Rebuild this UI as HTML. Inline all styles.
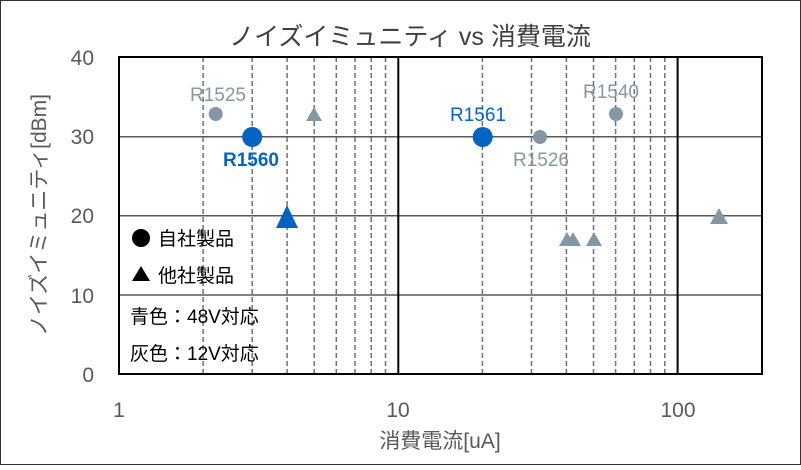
<!DOCTYPE html>
<html><head><meta charset="utf-8"><style>
body{margin:0;background:#fff;}
svg text{font-family:"Liberation Sans","Noto Sans CJK JP",sans-serif;}
</style></head><body>
<svg width="801" height="465" xmlns="http://www.w3.org/2000/svg">
<rect x="0.5" y="0.5" width="800" height="464" fill="#fff" stroke="#333" stroke-width="1"/>
<text x="410" y="45" font-size="25" fill="#404040" text-anchor="middle">ノイズイミュニティ vs 消費電流</text>
<g stroke="#6f6f6f" stroke-width="1.5" stroke-dasharray="5,3">
<line x1="203.1" y1="57" x2="203.1" y2="374"/><line x1="252.2" y1="57" x2="252.2" y2="374"/><line x1="287.1" y1="57" x2="287.1" y2="374"/><line x1="314.2" y1="57" x2="314.2" y2="374"/><line x1="336.3" y1="57" x2="336.3" y2="374"/><line x1="355" y1="57" x2="355" y2="374"/><line x1="371.2" y1="57" x2="371.2" y2="374"/><line x1="385.5" y1="57" x2="385.5" y2="374"/>
<line x1="482.4" y1="57" x2="482.4" y2="374"/><line x1="531.5" y1="57" x2="531.5" y2="374"/><line x1="566.4" y1="57" x2="566.4" y2="374"/><line x1="593.5" y1="57" x2="593.5" y2="374"/><line x1="615.6" y1="57" x2="615.6" y2="374"/><line x1="634.3" y1="57" x2="634.3" y2="374"/><line x1="650.5" y1="57" x2="650.5" y2="374"/><line x1="664.8" y1="57" x2="664.8" y2="374"/>
</g>
<g stroke="#595959" stroke-width="1.5">
<line x1="119" y1="136.7" x2="762" y2="136.7"/><line x1="119" y1="215.7" x2="762" y2="215.7"/><line x1="119" y1="295" x2="762" y2="295"/>
</g>
<g stroke="#000" stroke-width="2" fill="none">
<rect x="119" y="57" width="643" height="317"/>
<line x1="398.3" y1="57" x2="398.3" y2="374"/><line x1="677.6" y1="57" x2="677.6" y2="374"/>
</g>
<g font-size="21" fill="#595959">
<text x="94" y="65" text-anchor="end">40</text><text x="94" y="144" text-anchor="end">30</text><text x="94" y="223" text-anchor="end">20</text><text x="94" y="303" text-anchor="end">10</text><text x="94" y="382" text-anchor="end">0</text>
<text x="119" y="417" text-anchor="middle">1</text><text x="398" y="417" text-anchor="middle">10</text><text x="678" y="417" text-anchor="middle">100</text>
<text x="440" y="448" text-anchor="middle">消費電流[uA]</text>
<text transform="translate(46,215) rotate(-90)" text-anchor="middle">ノイズイミュニティ[dBm]</text>
</g>
<g fill="#8497a4">
<circle cx="215.7" cy="114" r="7"/><circle cx="540" cy="137" r="7"/><circle cx="616" cy="114" r="7"/>
<polygon points="314,107 322,121 306,121"/>
<polygon points="567,232 575,246 559,246"/><polygon points="573,232 581,246 565,246"/><polygon points="594,232 602,246 586,246"/><polygon points="719,208 728,224 710,224"/>
</g>
<g font-size="19" fill="#8497a4">
<text x="218" y="101" text-anchor="middle">R1525</text><text x="541" y="166" text-anchor="middle">R1526</text><text x="611" y="98" text-anchor="middle">R1540</text>
</g>
<g fill="#0563c1">
<circle cx="252.2" cy="137" r="10"/><circle cx="482.7" cy="137" r="10"/>
<polygon points="287,205 298,228 276,228"/>
</g>
<text x="251" y="166" font-size="19" font-weight="bold" fill="#0563c1" text-anchor="middle">R1560</text>
<text x="478" y="121" font-size="19" fill="#0563c1" text-anchor="middle">R1561</text>
<g font-size="19" fill="#000">
<circle cx="141" cy="238" r="9"/><text x="158" y="245">自社製品</text>
<polygon points="141,266 150,281 132,281"/><text x="158" y="282">他社製品</text>
<text x="130" y="323">青色：48V対応</text>
<text x="130" y="360">灰色：12V対応</text>
</g>
</svg>
</body></html>
